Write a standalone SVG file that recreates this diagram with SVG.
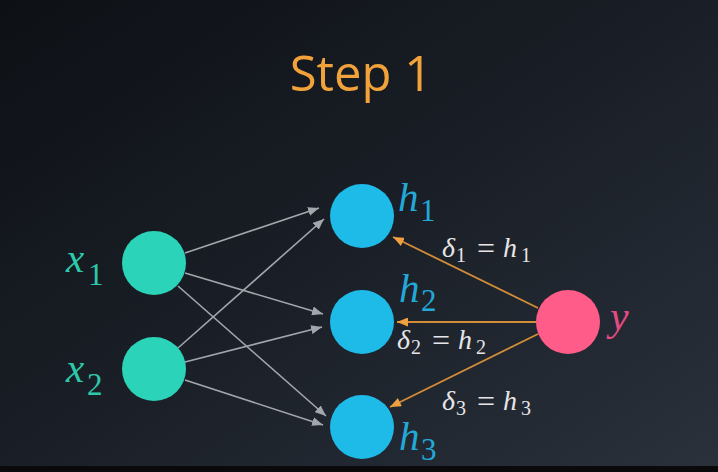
<svg xmlns="http://www.w3.org/2000/svg" width="718" height="472" viewBox="0 0 718 472">
  <defs>
    <linearGradient id="bg" x1="0" y1="0" x2="1" y2="1">
      <stop offset="0" stop-color="#0d1015"/>
      <stop offset="0.5" stop-color="#1a1f27"/>
      <stop offset="1" stop-color="#2a313b"/>
    </linearGradient>
    <marker id="ag" markerUnits="userSpaceOnUse" markerWidth="12" markerHeight="9" refX="11" refY="4.5" orient="auto">
      <path d="M0,0 L11,4.5 L0,9 z" fill="#a3a7ad"/>
    </marker>
    <marker id="ao" markerUnits="userSpaceOnUse" markerWidth="12" markerHeight="9" refX="11" refY="4.5" orient="auto">
      <path d="M0,0 L11,4.5 L0,9 z" fill="#f0a040"/>
    </marker>
  </defs>
  <style>
    .grey { stroke: #a3a7ad; stroke-width: 1.6; fill: none; marker-end: url(#ag); }
    .orange { stroke: #d38d38; stroke-width: 1.8; fill: none; marker-end: url(#ao); }
    .math { font-family: "Liberation Serif", "DejaVu Serif", serif; font-style: italic; }
    .rm { font-family: "Liberation Serif", "DejaVu Serif", serif; font-style: normal; }
    .in { fill: #2bd3b8; }
    .hid { fill: #1fbbe8; }
    .out { fill: #ff5c8a; }
    .lx { fill: #2cc9ab; }
    .lh { fill: #22a9d8; }
    .ly { fill: #e24a82; }
    .ld { fill: #e6e6e8; }
  </style>
  <rect x="0" y="0" width="718" height="472" fill="url(#bg)"/>
  <rect x="0" y="466" width="718" height="6" fill="#0a0a0c"/>

  <text x="361" y="91" text-anchor="middle" font-family="Open Sans, Noto Sans, sans-serif" font-size="49" fill="#f2a23a">Step 1</text>

  <g id="connectors">
    <line class="grey" x1="185" y1="253" x2="319" y2="208"/>
    <line class="grey" x1="185" y1="273" x2="323" y2="314"/>
    <line class="grey" x1="178" y1="286" x2="326" y2="416"/>
    <line class="grey" x1="178" y1="348" x2="324" y2="219"/>
    <line class="grey" x1="185" y1="362" x2="322" y2="327"/>
    <line class="grey" x1="185" y1="380" x2="323" y2="425"/>
    <line class="orange" x1="538" y1="308" x2="393" y2="237"/>
    <line class="orange" x1="537" y1="322" x2="397" y2="322"/>
    <line class="orange" x1="538" y1="334" x2="390" y2="407"/>
  </g>

  <g id="x1">
    <circle cx="154" cy="263" r="32" class="in"/>
    <text class="math lx" font-size="41" x="66" y="272">x</text>
    <text class="rm lx" font-size="31" x="88" y="285">1</text>
  </g>
  <g id="x2">
    <circle cx="154" cy="369" r="32" class="in"/>
    <text class="math lx" font-size="41" x="66" y="382">x</text>
    <text class="rm lx" font-size="31" x="87" y="395">2</text>
  </g>
  <g id="h1">
    <circle cx="362" cy="216" r="32" class="hid"/>
    <text class="math lh" font-size="41" x="398" y="211">h</text>
    <text class="rm lh" font-size="31" x="420" y="221">1</text>
  </g>
  <g id="h2">
    <circle cx="362" cy="322" r="32" class="hid"/>
    <text class="math lh" font-size="41" x="399" y="302">h</text>
    <text class="rm lh" font-size="31" x="421" y="311">2</text>
  </g>
  <g id="h3">
    <circle cx="362" cy="427" r="32" class="hid"/>
    <text class="math lh" font-size="41" x="399" y="450">h</text>
    <text class="rm lh" font-size="31" x="421" y="460">3</text>
  </g>
  <g id="y">
    <circle cx="568" cy="322" r="32" class="out"/>
    <text class="math ly" font-size="42" x="610" y="330">y</text>
  </g>

  <g id="label-d1">
    <text class="math ld" font-size="28" x="442" y="257">δ</text>
    <text class="rm ld" font-size="20" x="456" y="262">1</text>
    <text class="rm ld" font-size="32" x="477" y="259">=</text>
    <text class="math ld" font-size="28" x="503" y="257">h</text>
    <text class="rm ld" font-size="20" x="521" y="262">1</text>
  </g>
  <g id="label-d2">
    <text class="math ld" font-size="28" x="397" y="349">δ</text>
    <text class="rm ld" font-size="20" x="411" y="354">2</text>
    <text class="rm ld" font-size="32" x="432" y="351">=</text>
    <text class="math ld" font-size="28" x="458" y="349">h</text>
    <text class="rm ld" font-size="20" x="476" y="354">2</text>
  </g>
  <g id="label-d3">
    <text class="math ld" font-size="28" x="442" y="410">δ</text>
    <text class="rm ld" font-size="20" x="456" y="415">3</text>
    <text class="rm ld" font-size="32" x="477" y="412">=</text>
    <text class="math ld" font-size="28" x="503" y="410">h</text>
    <text class="rm ld" font-size="20" x="521" y="415">3</text>
  </g>
</svg>
